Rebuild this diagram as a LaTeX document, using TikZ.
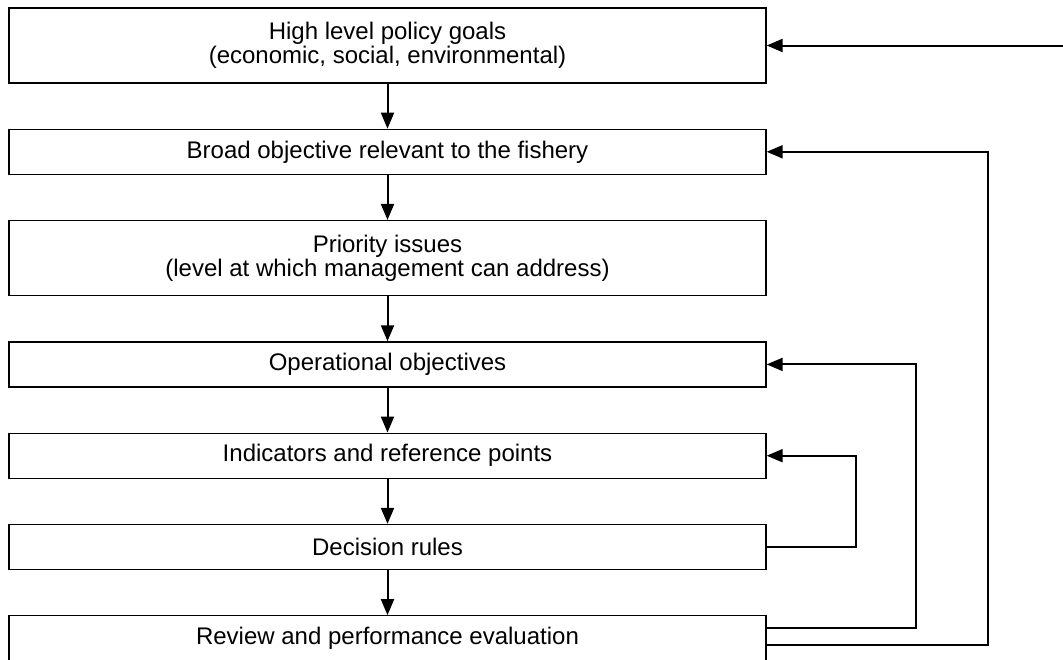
\documentclass[tikz,border=0pt]{standalone}
\usepackage{fontspec}
\setmainfont{Liberation Sans}
\usepackage{tikz}
\usetikzlibrary{arrows.meta, positioning}

\begin{document}
\begin{tikzpicture}[
    x=1pt, y=1pt,
    font=\fontsize{24}{24}\selectfont,
    node distance=45pt,
    >={Triangle[length=16pt,width=13pt]},
    stage/.style={
        rectangle,
        draw=black,
        line width=1.3pt,
        align=center,
        minimum width=757pt,
        minimum height=45pt,
        inner sep=2pt
    },
    tall/.style={stage, minimum height=75pt},
    arrow/.style={->, line width=2pt},
    loop/.style={->, line width=2pt}
]
\useasboundingbox (0,0) rectangle (1063,-659);

% Nodes
\node (goals) [tall] at (387.5,-45.5)
{High level policy goals\\
(economic, social, environmental)};

\node (broad) [stage, below=of goals] {Broad objective relevant to the fishery};

\node (issues) [tall, below=of broad]
{Priority issues\\
(level at which management can address)};

\node (ops) [stage, below=of issues] {Operational objectives};

\node (ind) [stage, below=of ops] {Indicators and reference points};

\node (rules) [stage, below=of ind] {Decision rules};

\node (review) [stage, below=of rules] {Review and performance evaluation};

\coordinate (policy) at (1063,-45.5);

% Arrows
\draw [arrow] (goals) -- (broad);
\draw [arrow] (broad) -- (issues);
\draw [arrow] (issues) -- (ops);
\draw [arrow] (ops) -- (ind);
\draw [arrow] (ind) -- (rules);
\draw [arrow] (rules) -- (review);

% Feedback loops
\draw [loop] (policy) -- (goals.east);
\draw [loop] (rules.east) -- ++(89,0) |- (ind.east);
\draw [loop] ([yshift=10.5pt]review.east) -- ++(149,0) |- (ops.east);
\draw [loop] ([yshift=-6.5pt]review.east) -- ++(221,0) |- (broad.east);

\end{tikzpicture}
\end{document}
